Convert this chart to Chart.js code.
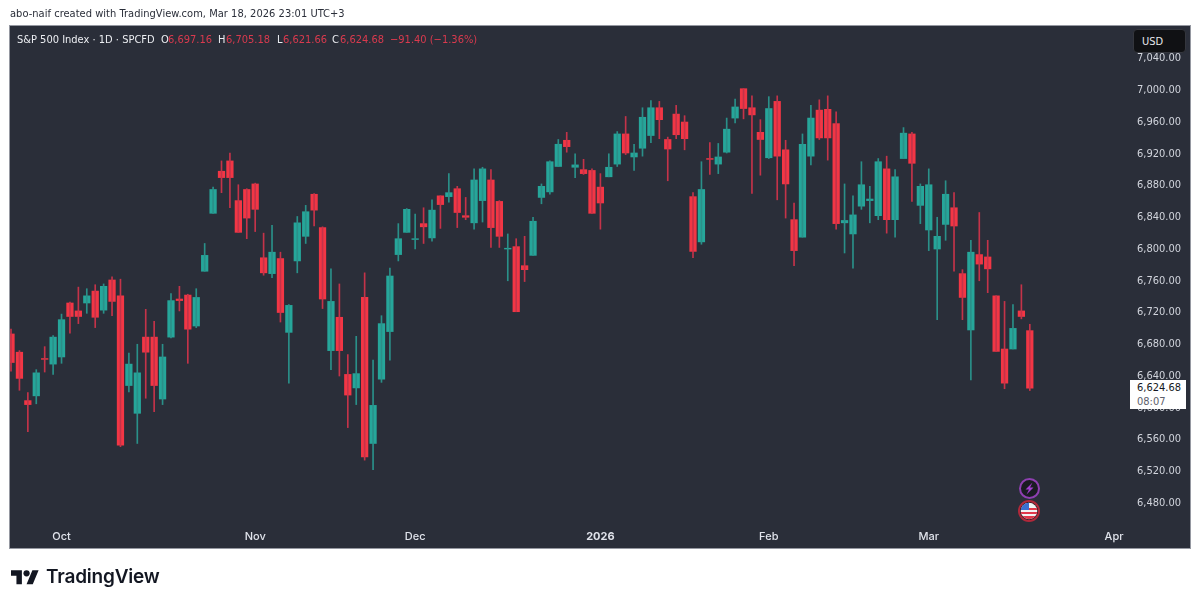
<!DOCTYPE html>
<html>
<head>
<meta charset="utf-8">
<title>S&amp;P 500 Index</title>
<script src="https://cdn.jsdelivr.net/npm/chart.js@4/dist/chart.umd.min.js"></script>
<style>
  html, body { margin: 0; padding: 0; background: #fff; width: 1200px; height: 606px; overflow: hidden; }
  body { position: relative; font-family: "DejaVu Sans Condensed", "DejaVu Sans", sans-serif; }
  #panel { position: absolute; left: 9px; top: 25px; width: 1180px; height: 522px; background: #2a2e39; border: 1px solid #9598a1; }
  canvas { position: absolute; left: 0; top: 0; }
  #credit { position: absolute; left: 10px; top: 7px; font-size: 11px; letter-spacing: 0.03px; color: #2a2e39; white-space: nowrap; }
  #legend span { position: absolute; top: 33px; font-size: 11px; white-space: nowrap; color: #d93a4e; }
  #legend span.w { color: #eceef2; }
  #usd { position: absolute; left: 1133px; top: 29px; width: 53px; height: 24px; box-sizing: border-box; padding: 5px 0 0 8px; font-size: 11px; color: #e6e7ea; background: #101114; border: 1px solid #34363d; border-radius: 4px; }
  #priceTag { position: absolute; left: 1130px; width: 56px; height: 29px; box-sizing: border-box; padding: 1px 0 0 7px; font-size: 11px; line-height: 14px; color: #131722; background: #fff; }
  #priceTag i { display: block; font-style: normal; color: #5d606b; }
  .icon { position: absolute; }
  #logoText { position: absolute; left: 46px; top: 565px; font-family: Inter, sans-serif; font-weight: 600; font-size: 19px; letter-spacing: -0.2px; color: #131722; }
</style>
</head>
<body>
<div id="panel"></div>
<canvas id="chart" width="1200" height="606"></canvas>
<div id="credit">abo-naif created with TradingView.com, Mar 18, 2026 23:01 UTC+3</div>
<div id="legend"></div>
<div id="usd">USD</div>
<div id="priceTag"></div>

<svg class="icon" style="left:1018px;top:477px" width="23" height="23" viewBox="0 0 23 23">
  <circle cx="11.5" cy="11.5" r="9.5" fill="#1a1b22" stroke="#8e3fb0" stroke-width="2"/>
  <path d="M14.5 5.5 L7.5 12.5 H11 L8.5 17.5 L15.5 10.5 H12 Z" fill="#a23fd0"/>
</svg>
<svg class="icon" style="left:1017px;top:499px" width="24" height="24" viewBox="0 0 24 24">
  <circle cx="12" cy="12" r="10" fill="#1a1b22" stroke="#b0283a" stroke-width="2"/>
  <clipPath id="flag"><circle cx="12" cy="12" r="8.3"/></clipPath>
  <g clip-path="url(#flag)">
    <rect x="3" y="3" width="18" height="18" fill="#f2f2f2"/>
    <rect x="3" y="9" width="18" height="2" fill="#e0384a"/>
    <rect x="3" y="13" width="18" height="2" fill="#e0384a"/>
    <rect x="3" y="17" width="18" height="4" fill="#e0384a"/>
    <rect x="3" y="3" width="9" height="8" fill="#3b6fd0"/>
  </g>
</svg>

<svg class="icon" style="left:11px;top:567px" width="28" height="22" viewBox="0 0 36 28">
  <path d="M14 22H7V11H0V4h14v18zM28 22h-8l7.5-18h8L28 22z" fill="#131722"/>
  <circle cx="20" cy="8" r="4" fill="#131722"/>
</svg>
<div id="logoText">TradingView</div>

<script>
const opens = [6693,6670,6609,6615,6662,6655,6664,6732,6722,6732,6747,6723,6761,6741,6628,6593,6689,6689,6611,6689,6737,6742,6703,6772,
  6845,6898,6911,6861,6875,6882,6789,6769,6788,6695,6785,6816,6869,6827,6672,6714,6642,6625,6739,6555,6636,6696,6793,6821,
  6812,6832,6814,6867,6866,6876,6842,6833,6861,6887,6860,6800,6803,6779,6792,6865,6872,6904,6937,6903,6900,6899,
  6878,6891,6907,6945,6916,6927,6943,6978,6938,6970,6960,6866,6809,6914,6907,6922,6965,7002,6978,6947,6915,6986,6925,6837,
  6815,6917,6975,6976,6958,6833,6819,6854,6861,6842,6901,6837,6914,6945,6855,6824,6800,6831,6852,6769,
  6698,6793,6790,6741,6674,6674,6722,6697.16];
const highs = [6699,6672,6619,6648,6677,6691,6718,6733,6752,6750,6755,6756,6765,6762,6669,6680,6724,6709,6680,6744,6753,6743,6750,6807,
  6878,6911,6921,6881,6876,6883,6820,6830,6796,6730,6841,6855,6870,6828,6775,6756,6667,6690,6770,6660,6716,6776,6832,6851,
  6844,6852,6862,6867,6895,6879,6865,6901,6903,6900,6861,6819,6813,6816,6840,6882,6911,6938,6947,6920,6913,6901,
  6895,6920,6948,6967,6932,6978,6987,6986,6941,6981,6968,6871,6910,6934,6933,6965,6989,7002,6993,6963,6992,6993,6937,6858,
  6945,6981,6988,6993,6973,6882,6867,6910,6879,6914,6917,6900,6953,6947,6882,6901,6840,6886,6871,6774,
  6811,6846,6811,6741,6734,6730,6755,6705.18];
const lows = [6646,6622,6570,6605,6645,6642,6656,6694,6706,6719,6701,6719,6716,6551,6620,6555,6612,6595,6604,6688,6722,6656,6701,6772,
  6845,6871,6852,6821,6813,6822,6767,6764,6708,6631,6770,6807,6829,6725,6648,6640,6575,6604,6534,6522,6632,6660,6785,6821,
  6800,6807,6810,6826,6859,6827,6837,6825,6834,6802,6802,6760,6721,6759,6792,6857,6869,6904,6922,6890,6894,6845,
  6825,6891,6904,6919,6899,6917,6934,6939,6886,6939,6925,6789,6806,6894,6895,6921,6959,6964,6870,6893,6914,6862,6839,6779,
  6815,6906,6938,6912,6825,6795,6776,6850,6833,6837,6820,6815,6914,6860,6832,6798,6711,6811,6772,6711,
  6635,6760,6745,6671,6624,6674,6712,6621.66];
const closes = [6657,6637,6604,6644,6661,6689,6711,6715,6715,6741,6714,6753,6734,6553,6655,6644,6670,6628,6664,6735,6735,6699,6739,6792,
  6875,6890,6890,6821,6839,6850,6770,6796,6720,6729,6833,6847,6849,6737,6734,6672,6616,6643,6538,6603,6706,6766,6813,6850,
  6813,6828,6849,6856,6871,6846,6840,6887,6901,6827,6816,6801,6721,6774,6835,6879,6910,6932,6929,6906,6895,6845,
  6858,6903,6945,6921,6921,6966,6978,6963,6926,6944,6939,6797,6875,6913,6916,6951,6979,6977,6969,6938,6977,6917,6882,6798,
  6932,6965,6940,6940,6832,6836,6843,6881,6863,6910,6837,6891,6946,6908,6879,6881,6816,6869,6829,6739,
  6796,6781,6775,6671,6631,6700,6715,6624.68];

// x axis counts trading days, so the month labels sit on the first session of each month
const monthLabels = ['Oct', 'Nov', 'Dec', '2026', 'Feb', 'Mar', 'Apr'];
const monthDays = [6, 29, 48, 70, 90, 109, 131];
const priceTicks = [7040, 7000, 6960, 6920, 6880, 6840, 6800, 6760, 6720, 6680, 6640, 6600, 6560, 6520, 6480];

const legendItems = [
  ['S&P 500 Index · 1D · SPCFD', 17, 'w'], ['O', 161, 'w'], ['6,697.16', 168], ['H', 218, 'w'], ['6,705.18', 226],
  ['L', 277, 'w'], ['6,621.66', 283], ['C', 332, 'w'], ['6,624.68', 340], ['−91.40 (−1.36%)', 390],
];

const GREEN = '#26a69a';
const RED = '#f23645';
const isUp = closes.map((c, i) => c >= opens[i]);

const wicks = highs.map((h, i) => ({ x: i, y: [lows[i], h] }));
const bodies = opens.map((o, i) => ({ x: i, y: [Math.min(o, closes[i]), Math.max(o, closes[i])] }));

const fmtPrice = v => v.toLocaleString('en-US', { minimumFractionDigits: 2, maximumFractionDigits: 2 });

document.getElementById('legend').innerHTML = legendItems
  .map(([text, left, cls]) => `<span class="${cls || ''}" style="left:${left}px">${text.replace('&', '&amp;')}</span>`)
  .join('');

const chart = new Chart(document.getElementById('chart').getContext('2d'), {
  type: 'bar',
  data: {
    datasets: [
      { data: wicks, backgroundColor: isUp.map(up => (up ? '#2a9089' : '#c43349')), barThickness: 1, grouped: false },
      { data: bodies, backgroundColor: isUp.map(up => (up ? GREEN : RED)), barThickness: 6.6, grouped: false },
    ],
  },
  options: {
    responsive: false,
    animation: false,
    layout: { padding: { left: 10, right: 10, top: 26, bottom: 57 } },
    plugins: { legend: { display: false }, tooltip: { enabled: false } },
    scales: {
      x: {
        type: 'linear',
        offset: false,
        min: -0.12,
        max: 132.9,
        grid: { display: false, drawTicks: false },
        border: { display: false },
        afterBuildTicks: scale => { scale.ticks = monthDays.map(value => ({ value })); },
        afterFit: scale => { scale.height = 26; },
        ticks: {
          autoSkip: false,
          maxRotation: 0,
          padding: 7,
          color: '#e0e3eb',
          font: ctx => ({ family: 'Inter, sans-serif', size: 11, weight: ctx.tick && ctx.tick.value === 70 ? '700' : '500' }),
          callback: value => monthLabels[monthDays.indexOf(value)],
        },
      },
      y: {
        position: 'right',
        min: 6454.8,
        max: 7081,
        grid: { display: false, drawTicks: false },
        border: { display: false },
        afterBuildTicks: scale => { scale.ticks = priceTicks.map(value => ({ value })); },
        afterFit: scale => { scale.width = 60; },
        ticks: {
          autoSkip: false,
          padding: 7,
          color: '#d1d4dc',
          font: { family: '"DejaVu Sans Condensed", "DejaVu Sans", sans-serif', size: 11 },
          callback: value => fmtPrice(value),
        },
      },
    },
  },
});

// last price tag follows the close of the latest candle
const lastClose = closes[closes.length - 1];
const tag = document.getElementById('priceTag');
tag.innerHTML = `${fmtPrice(lastClose)}<i>08:07</i>`;
tag.style.top = `${Math.round(chart.scales.y.getPixelForValue(lastClose)) - 8}px`;
</script>
</body>
</html>
